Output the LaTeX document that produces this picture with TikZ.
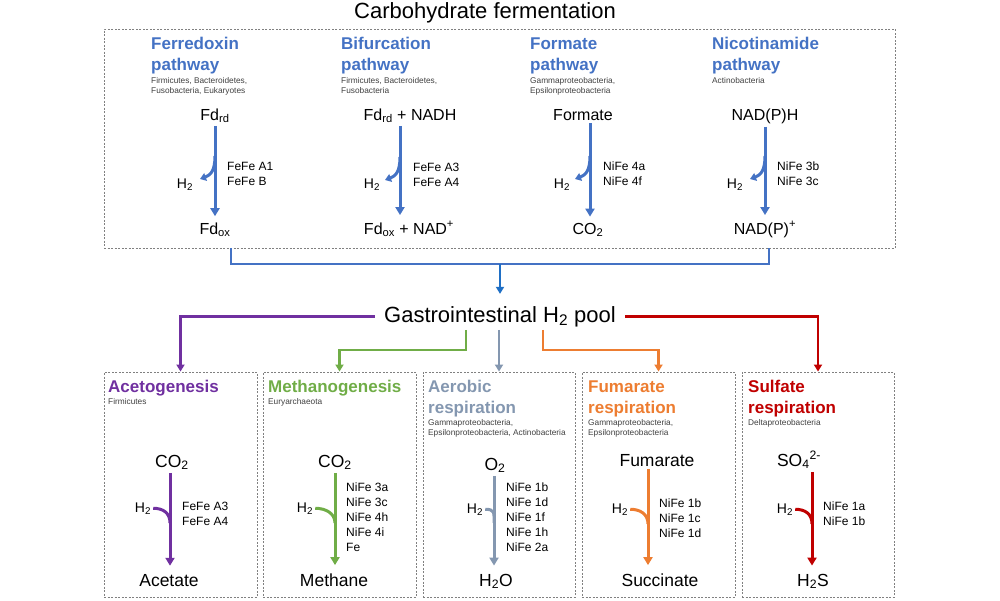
\documentclass[tikz,border=0pt]{standalone}
\usepackage{fontspec}
\setmainfont{Liberation Sans}
\usetikzlibrary{arrows.meta}
\definecolor{cblue}{HTML}{4472C4}
\definecolor{cdblue}{HTML}{1F6FC5}
\definecolor{cpurple}{HTML}{7030A0}
\definecolor{cgreen}{HTML}{70AD47}
\definecolor{cgray}{HTML}{8497B0}
\definecolor{corange}{HTML}{ED7D31}
\definecolor{cred}{HTML}{C00000}
\definecolor{bordergray}{HTML}{808080}
\definecolor{spgray}{HTML}{404040}
\newcommand\fsz[2]{\fontsize{#1}{#2}\selectfont}
\begin{document}
\begin{tikzpicture}[x=1pt,y=-1pt,
  dbox/.style={draw=bordergray, dash pattern=on 2pt off 1.5pt, line width=0.9pt, inner sep=0pt},
  ttl/.style={anchor=base west, inner sep=0pt, font=\fsz{17}{21}\bfseries},
  spc/.style={anchor=base west, inner sep=0pt, font=\fsz{8.3}{10}, text=spgray},
  mt/.style={anchor=base, inner sep=3pt, font=\fsz{16}{19}},
  mb/.style={anchor=base, inner sep=3pt, font=\fsz{17.5}{20}},
  hlab/.style={anchor=base, inner sep=2pt, font=\fsz{14}{16}},
  enz/.style={anchor=north west, inner sep=0pt, align=left, font=\fsz{12}{15}},
  flow/.style={line width=3pt, -{Triangle[width=9pt,length=8pt]}},
  conn/.style={line width=2.5pt, -{Triangle[width=8pt,length=7pt]}},
  hout/.style={line width=3pt, -{Triangle[width=8pt,length=6pt]}},
  hin/.style={line width=3pt}
]
\useasboundingbox (0,0) rectangle (1000,600);

% ---------- top ----------
\node[anchor=base, inner sep=0pt, font=\fsz{22}{26}] (title) at (485,18) {Carbohydrate fermentation};
\node[dbox, minimum width=791pt, minimum height=219pt] (topbox) at (499.5,138.5) {};

% column 1
\node[ttl, text=cblue] (p1t1) at (151,49) {Ferredoxin};
\node[ttl, text=cblue] (p1t2) at (151,70) {pathway};
\node[spc] (p1s1) at (151,83) {Firmicutes, Bacteroidetes,};
\node[spc] (p1s2) at (151,93) {Fusobacteria, Eukaryotes};
\node[mt] (p1a) at (215,120) {Fd\textsubscript{rd}};
\node[mt] (p1b) at (215,234) {Fd\textsubscript{ox}};
\node[hlab] (p1h) at (185,188) {H\textsubscript{2}};
\node[enz] (p1e) at (227,162) {FeFe A1\\FeFe B};
\coordinate (ax1) at (215,0);
\coordinate (s1) at (215,156);
\coordinate (e1) at (200,179);
\draw[flow, cblue, shorten >=3pt] (p1a.south -| ax1) -- (p1b.north -| ax1);
\draw[hout, cblue] (s1) .. controls (215,170) and (211,175) .. (e1);

% column 2
\node[ttl, text=cblue] (p2t1) at (341,49) {Bifurcation};
\node[ttl, text=cblue] (p2t2) at (341,70) {pathway};
\node[spc] (p2s1) at (341,83) {Firmicutes, Bacteroidetes,};
\node[spc] (p2s2) at (341,93) {Fusobacteria};
\node[mt] (p2a) at (410,120) {Fd\textsubscript{rd} + NADH};
\node[mt] (p2b) at (409,234) {Fd\textsubscript{ox} + NAD\textsuperscript{+}};
\node[hlab] (p2h) at (372,188) {H\textsubscript{2}};
\node[enz] (p2e) at (413,163) {FeFe A3\\FeFe A4};
\coordinate (ax2) at (400,0);
\coordinate (s2) at (400,157);
\coordinate (e2) at (385,180);
\draw[flow, cblue, shorten >=3pt] (p2a.south -| ax2) -- (p2b.north -| ax2);
\draw[hout, cblue] (s2) .. controls (400,171) and (396,176) .. (e2);

% column 3
\node[ttl, text=cblue] (p3t1) at (530,49) {Formate};
\node[ttl, text=cblue] (p3t2) at (530,70) {pathway};
\node[spc] (p3s1) at (530,83) {Gammaproteobacteria,};
\node[spc] (p3s2) at (530,93) {Epsilonproteobacteria};
\node[mt] (p3a) at (583,120) {Formate};
\node[mt] (p3b) at (588,234) {CO\textsubscript{2}};
\node[hlab] (p3h) at (562,188) {H\textsubscript{2}};
\node[enz] (p3e) at (603,162) {NiFe 4a\\NiFe 4f};
\coordinate (ax3) at (590,0);
\coordinate (s3) at (590,156);
\coordinate (e3) at (575,179);
\draw[flow, cblue, shorten >=3pt] (p3a.south -| ax3) -- (p3b.north -| ax3);
\draw[hout, cblue] (s3) .. controls (590,170) and (586,175) .. (e3);

% column 4
\node[ttl, text=cblue] (p4t1) at (712,49) {Nicotinamide};
\node[ttl, text=cblue] (p4t2) at (712,70) {pathway};
\node[spc] (p4s1) at (712,83) {Actinobacteria};
\node[mt] (p4a) at (765,120) {NAD(P)H};
\node[mt] (p4b) at (765,234) {NAD(P)\textsuperscript{+}};
\node[hlab] (p4h) at (735,188) {H\textsubscript{2}};
\node[enz] (p4e) at (777,162) {NiFe 3b\\NiFe 3c};
\coordinate (ax4) at (765,0);
\coordinate (s4) at (765,156);
\coordinate (e4) at (750,179);
\draw[flow, cblue, shorten >=3pt] (p4a.south -| ax4) -- (p4b.north -| ax4);
\draw[hout, cblue] (s4) .. controls (765,170) and (761,175) .. (e4);

% bracket and pool
\coordinate (bl) at (231,248);
\coordinate (br) at (769,248);
\coordinate (bm) at (500,264);
\draw[line width=2.5pt, cblue] (bl) |- (bm) -| (br);
\node[anchor=base, inner xsep=9pt, inner ysep=3pt, font=\fsz{22}{26}] (pool) at (500,322) {Gastrointestinal H\textsubscript{2} pool};
\draw[conn, cdblue, shorten >=9pt] (bm) -- (pool.north);

% ---------- bottom boxes ----------
\node[dbox, minimum width=153pt, minimum height=225pt] (b1) at (180.5,484.5) {};
\node[dbox, minimum width=153pt, minimum height=225pt] (b2) at (339.5,484.5) {};
\node[dbox, minimum width=152pt, minimum height=225pt] (b3) at (499,484.5) {};
\node[dbox, minimum width=153pt, minimum height=225pt] (b4) at (658.5,484.5) {};
\node[dbox, minimum width=152pt, minimum height=225pt] (b5) at (818,484.5) {};

% pool connectors
\coordinate (gx) at (466,0);
\coordinate (ox) at (543,0);
\draw[conn, cpurple] (pool.west) -| (b1.north);
\draw[conn, cred] (pool.east) -| (b5.north);
\draw[conn, cgreen] (pool.south -| gx) -- ++(0,20) -| (b2.north);
\draw[conn, cgray] (pool.south -| b3.north) -- (b3.north);
\draw[conn, corange] (pool.south -| ox) -- ++(0,20) -| (b4.north);

% B1 acetogenesis
\node[ttl, text=cpurple] (q1t1) at (108,392) {Acetogenesis};
\node[spc] (q1s1) at (108,404) {Firmicutes};
\node[mb] (q1a) at (172,467) {CO\textsubscript{2}};
\node[mb] (q1b) at (169,586) {Acetate};
\node[hlab] (q1h) at (143,512) {H\textsubscript{2}};
\node[enz] (q1e) at (182,502) {FeFe A3\\FeFe A4};
\coordinate (bx1) at (170,0);
\coordinate (j1) at (170,523);
\draw[flow, cpurple, shorten >=5pt] (q1a.south -| bx1) -- (q1b.north -| bx1);
\draw[hin, cpurple] (q1h.east) .. controls +(10,0) and +(0,-10) .. (j1);

% B2 methanogenesis
\node[ttl, text=cgreen] (q2t1) at (268,392) {Methanogenesis};
\node[spc] (q2s1) at (268,404) {Euryarchaeota};
\node[mb] (q2a) at (335,467) {CO\textsubscript{2}};
\node[mb] (q2b) at (334,586) {Methane};
\node[hlab] (q2h) at (305,512) {H\textsubscript{2}};
\node[enz] (q2e) at (346,483) {NiFe 3a\\NiFe 3c\\NiFe 4h\\NiFe 4i\\Fe};
\coordinate (bx2) at (335,0);
\coordinate (j2) at (335,523);
\draw[flow, cgreen, shorten >=5pt] (q2a.south -| bx2) -- (q2b.north -| bx2);
\draw[hin, cgreen] (q2h.east) .. controls +(10,0) and +(0,-10) .. (j2);

% B3 aerobic respiration
\node[ttl, text=cgray] (q3t1) at (428,392) {Aerobic};
\node[ttl, text=cgray] (q3t2) at (428,413) {respiration};
\node[spc] (q3s1) at (428,425) {Gammaproteobacteria,};
\node[spc] (q3s2) at (428,435) {Epsilonproteobacteria, Actinobacteria};
\node[mb] (q3a) at (495,470) {O\textsubscript{2}};
\node[mb] (q3b) at (496,586) {H\textsubscript{2}O};
\node[hlab] (q3h) at (475,513) {H\textsubscript{2}};
\node[enz] (q3e) at (506,483) {NiFe 1b\\NiFe 1d\\NiFe 1f\\NiFe 1h\\NiFe 2a};
\coordinate (bx3) at (494,0);
\coordinate (j3) at (494,523);
\draw[flow, cgray, shorten >=5pt] (q3a.south -| bx3) -- (q3b.north -| bx3);
\draw[hin, cgray] (q3h.east) .. controls +(10,0) and +(0,-10) .. (j3);

% B4 fumarate respiration
\node[ttl, text=corange] (q4t1) at (588,392) {Fumarate};
\node[ttl, text=corange] (q4t2) at (588,413) {respiration};
\node[spc] (q4s1) at (588,425) {Gammaproteobacteria,};
\node[spc] (q4s2) at (588,435) {Epsilonproteobacteria};
\node[mb] (q4a) at (657,466) {Fumarate};
\node[mb] (q4b) at (660,586) {Succinate};
\node[hlab] (q4h) at (620,513) {H\textsubscript{2}};
\node[enz] (q4e) at (659,499) {NiFe 1b\\NiFe 1c\\NiFe 1d};
\coordinate (bx4) at (648,0);
\coordinate (j4) at (648,524);
\draw[flow, corange, shorten >=5pt] (q4a.south -| bx4) -- (q4b.north -| bx4);
\draw[hin, corange] (q4h.east) .. controls +(10,0) and +(0,-10) .. (j4);

% B5 sulfate respiration
\node[ttl, text=cred] (q5t1) at (748,392) {Sulfate};
\node[ttl, text=cred] (q5t2) at (748,413) {respiration};
\node[spc] (q5s1) at (748,425) {Deltaproteobacteria};
\node[mb] (q5a) at (799,466) {SO\textsubscript{4}\textsuperscript{2-}};
\node[mb] (q5b) at (813,586) {H\textsubscript{2}S};
\node[hlab] (q5h) at (785,513) {H\textsubscript{2}};
\node[enz] (q5e) at (823,502) {NiFe 1a\\NiFe 1b};
\coordinate (bx5) at (812,0);
\coordinate (j5) at (812,524);
\draw[flow, cred, shorten >=5pt] (q5a.south -| bx5) -- (q5b.north -| bx5);
\draw[hin, cred] (q5h.east) .. controls +(10,0) and +(0,-10) .. (j5);
\end{tikzpicture}
\end{document}
